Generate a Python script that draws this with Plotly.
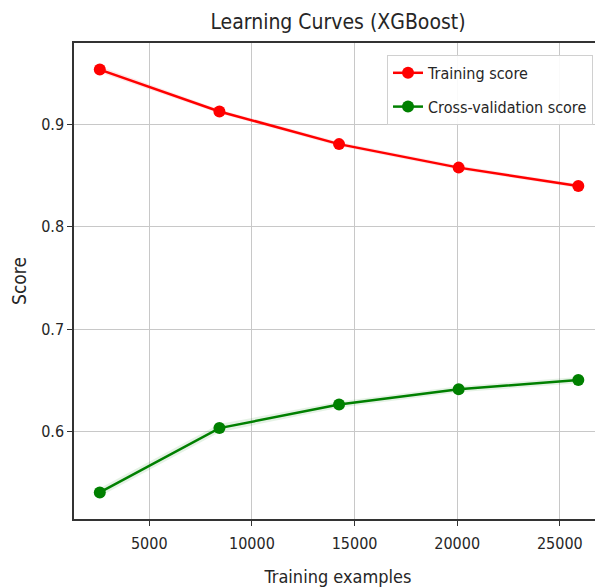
import plotly.graph_objects as go

train_sizes = [2590, 8417, 14245, 20072, 25900]
train_scores = [0.954, 0.913, 0.881, 0.858, 0.840]
train_std = [0.003, 0.002, 0.002, 0.002, 0.002]
cv_scores = [0.540, 0.603, 0.626, 0.641, 0.650]
cv_std = [0.004, 0.004, 0.003, 0.003, 0.003]

FONT = "DejaVu Sans Condensed, DejaVu Sans"
TXT = "#262626"
fig = go.Figure()

def band(x, m, s, color):
    up = [a + b for a, b in zip(m, s)]
    lo = [a - b for a, b in zip(m, s)]
    fig.add_trace(go.Scatter(x=x, y=up, mode="lines", line=dict(width=0), showlegend=False, hoverinfo="skip"))
    fig.add_trace(go.Scatter(x=x, y=lo, mode="lines", line=dict(width=0), fill="tonexty",
                             fillcolor=color, showlegend=False, hoverinfo="skip"))

band(train_sizes, train_scores, train_std, "rgba(255,0,0,0.1)")
band(train_sizes, cv_scores, cv_std, "rgba(0,128,0,0.1)")

fig.add_trace(go.Scatter(x=train_sizes, y=train_scores, mode="lines+markers", name="Training score",
                         legendgroup="a",
                         line=dict(color="#ff0000", width=2.5), marker=dict(size=12, color="#ff0000")))
fig.add_trace(go.Scatter(x=train_sizes, y=cv_scores, mode="lines+markers", name="Cross-validation score",
                         legendgroup="b",
                         line=dict(color="#008000", width=2.5), marker=dict(size=12, color="#008000")))

axis_common = dict(showline=True, linecolor="#333333", linewidth=1.5, mirror=True,
                   showgrid=True, gridcolor="#c8c8c8", gridwidth=1, automargin=False,
                   ticks="outside", ticklen=5, tickcolor="#333333", zeroline=False,
                   tickfont=dict(family=FONT, size=16, color=TXT))

fig.update_xaxes(range=[1333, 27054], tickvals=[5000, 10000, 15000, 20000, 25000],
                 ticktext=["5000", "10000", "15000", "20000", "25000"],
                 ticklabelstandoff=4,
                 title=dict(text="Training examples", font=dict(family=FONT, size=18, color=TXT), standoff=18),
                 **axis_common)
fig.update_yaxes(range=[0.514, 0.980], tickvals=[0.6, 0.7, 0.8, 0.9],
                 ticktext=["0.6", "0.7", "0.8", "0.9"],
                 title=dict(text="Score", font=dict(family=FONT, size=19, color=TXT), standoff=12),
                 **axis_common)

fig.update_layout(
    width=595, height=580,
    margin=dict(l=66, r=1, t=35, b=69),
    paper_bgcolor="white", plot_bgcolor="white",
    title=dict(text="Learning Curves (XGBoost)", xref="paper", x=0.5, xanchor="center",
               y=0.976, yanchor="middle",
               font=dict(family=FONT, size=21, color=TXT)),
    legend=dict(x=0.983, y=0.975, xanchor="right", yanchor="top", bgcolor="rgba(255,255,255,0.9)",
                traceorder="grouped", tracegroupgap=10,
                bordercolor="#d0d0d0", borderwidth=1, font=dict(family=FONT, size=16, color=TXT)),
    showlegend=True,
)

fig.write_html("out.html")
